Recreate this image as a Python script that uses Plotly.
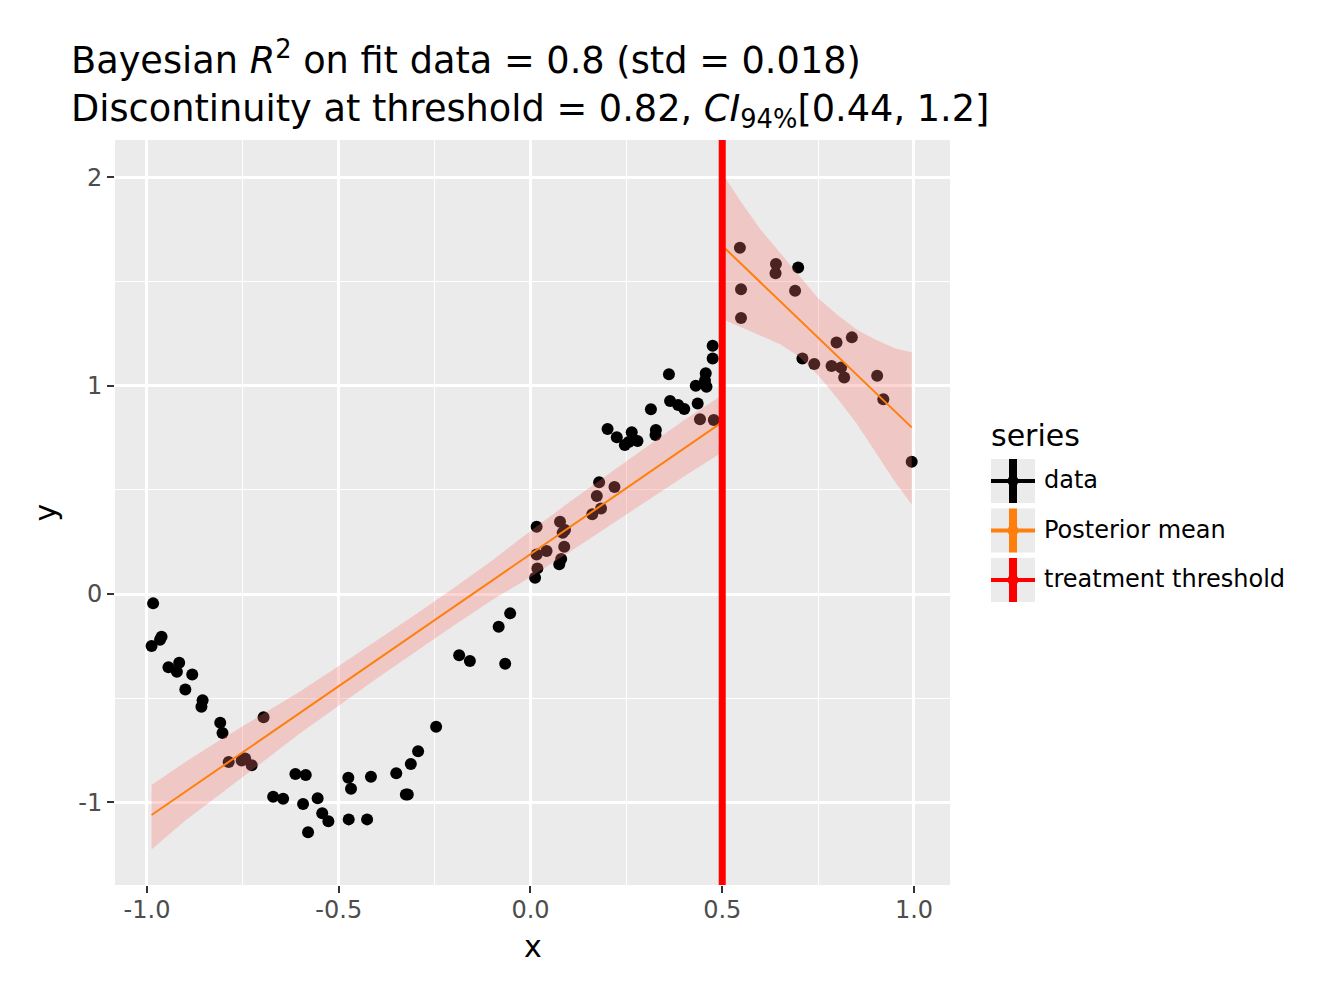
import plotly.graph_objects as go

# ---------------- data ----------------
TITLE_LINE1 = "Bayesian <i>R</i><sup>2</sup> on fit data = 0.8 (std = 0.018)"
TITLE_LINE2 = "Discontinuity at threshold = 0.82, <i>CI</i><sub>94%</sub>[0.44, 1.2]"

data_x = [-0.984, -0.962, -0.966, -0.988, -0.944, -0.916, -0.922, -0.882, -0.900, -0.855,
          -0.858, -0.809, -0.803, -0.696, -0.787, -0.753, -0.744, -0.727, -0.613, -0.586,
          -0.671, -0.645, -0.593, -0.555, -0.543, -0.527, -0.580, -0.475, -0.468, -0.474,
          -0.426, -0.416, -0.350, -0.325, -0.320, -0.312, -0.293, -0.246, -0.186, -0.158,
          -0.083, -0.053, -0.066, 0.012, 0.018, 0.016, 0.016, 0.042, 0.077, 0.090,
          0.084, 0.088, 0.080, 0.075, 0.179, 0.173, 0.219, 0.184, 0.161, 0.201,
          0.225, 0.246, 0.264, 0.279, 0.256, 0.314, 0.327, 0.326, 0.364, 0.385,
          0.401, 0.436, 0.431, 0.459, 0.442, 0.478, 0.475, 0.475, 0.361, 0.457,
          0.455, 0.546, 0.640, 0.639, 0.698, 0.549, 0.690, 0.549, 0.798, 0.838,
          0.709, 0.740, 0.785, 0.810, 0.818, 0.904, 0.920, 0.994]
data_y = [-0.045, -0.205, -0.220, -0.250, -0.352, -0.330, -0.373, -0.386, -0.458, -0.510,
          -0.541, -0.618, -0.667, -0.592, -0.807, -0.799, -0.790, -0.822, -0.864, -0.869,
          -0.973, -0.983, -1.008, -0.981, -1.053, -1.091, -1.144, -0.882, -0.935, -1.082,
          -1.082, -0.877, -0.861, -0.962, -0.962, -0.816, -0.755, -0.637, -0.294, -0.322,
          -0.157, -0.093, -0.335, 0.078, 0.123, 0.323, 0.190, 0.206, 0.347, 0.307,
          0.294, 0.227, 0.168, 0.143, 0.536, 0.470, 0.514, 0.410, 0.383, 0.792,
          0.752, 0.715, 0.776, 0.735, 0.730, 0.887, 0.787, 0.763, 0.927, 0.907,
          0.888, 0.915, 1.000, 0.995, 0.839, 0.835, 1.192, 1.131, 1.055, 1.060,
          1.025, 1.662, 1.584, 1.540, 1.567, 1.463, 1.456, 1.325, 1.207, 1.232,
          1.131, 1.104, 1.095, 1.087, 1.039, 1.048, 0.935, 0.635]

THRESHOLD = 0.5

mean_pre_x = [-0.988, 0.5]
mean_pre_y = [-1.061, 0.825]
mean_post_x = [0.5, 0.994]
mean_post_y = [1.672, 0.800]

band_pre_x = [-0.988, -0.9, -0.8, -0.7, -0.6, -0.5, -0.4, -0.3, -0.2, -0.1,
              0.0, 0.1, 0.2, 0.3, 0.4, 0.5]
band_pre_upper = [-0.917, -0.807, -0.690, -0.579, -0.467, -0.346, -0.224, -0.098, 0.029, 0.161,
                  0.302, 0.439, 0.571, 0.702, 0.834, 0.955]
band_pre_lower = [-1.226, -1.087, -0.950, -0.809, -0.667, -0.536, -0.404, -0.278, -0.151, -0.029,
                  0.082, 0.199, 0.321, 0.442, 0.564, 0.680]

band_post_x = [0.5, 0.55, 0.6, 0.65, 0.7, 0.75, 0.8, 0.85, 0.9, 0.95, 0.994]
band_post_upper = [2.02, 1.88, 1.75, 1.64, 1.53, 1.42, 1.34, 1.27, 1.22, 1.18, 1.16]
band_post_lower = [1.32, 1.28, 1.24, 1.20, 1.14, 1.05, 0.94, 0.82, 0.68, 0.54, 0.43]

x_ticks = [-1.0, -0.5, 0.0, 0.5, 1.0]
x_tick_labels = ["-1.0", "-0.5", "0.0", "0.5", "1.0"]
x_minor = [-0.75, -0.25, 0.25, 0.75]
y_ticks = [-1, 0, 1, 2]
y_tick_labels = ["-1", "0", "1", "2"]
y_minor = [-0.5, 0.5, 1.5]

legend_title = "series"
legend_labels = ["data", "Posterior mean", "treatment threshold"]
legend_colors = ["black", "#ff7f0e", "red"]

# ---------------- styles / layout ----------------
FONT = "DejaVu Sans"
W, H = 1320, 999
L, R, T, B = 115, 950, 140, 885
BAND_COLOR = "rgba(248,118,109,0.3)"


def pxx(x):
    return (x - L) / (R - L)


def pxy(y):
    return (B - y) / (B - T)


fig = go.Figure()

fig.add_trace(go.Scatter(x=data_x, y=data_y, mode="markers",
                         marker=dict(color="black", size=12, line=dict(width=0)),
                         showlegend=False, name="data"))

for bx, lo, up in [(band_pre_x, band_pre_lower, band_pre_upper),
                   (band_post_x, band_post_lower, band_post_upper)]:
    fig.add_trace(go.Scatter(x=list(bx) + list(bx)[::-1], y=list(up) + list(lo)[::-1],
                             mode="lines", fill="toself", fillcolor=BAND_COLOR,
                             line=dict(width=0), hoverinfo="skip", showlegend=False))

for mx, my in [(mean_pre_x, mean_pre_y), (mean_post_x, mean_post_y)]:
    fig.add_trace(go.Scatter(x=mx, y=my, mode="lines",
                             line=dict(color="#ff7f0e", width=2),
                             showlegend=False, name="Posterior mean"))

fig.add_shape(type="line", xref="x", yref="paper", x0=THRESHOLD, x1=THRESHOLD, y0=0, y1=1,
              line=dict(color="red", width=7), layer="above")

# manual legend
ann = []
shapes = []
ann.append(dict(text=legend_title, xref="paper", yref="paper", x=pxx(989), y=pxy(436),
                xanchor="left", yanchor="middle", showarrow=False,
                font=dict(family=FONT, size=30, color="black")))
key_tops = [459, 508.5, 558]
for lab, col, top in zip(legend_labels, legend_colors, key_tops):
    x0, x1 = 991, 1035
    y0, y1 = top, top + 44
    cx, cy = (x0 + x1) / 2, (y0 + y1) / 2
    shapes.append(dict(type="rect", xref="paper", yref="paper",
                       x0=pxx(x0), x1=pxx(x1), y0=pxy(y1), y1=pxy(y0),
                       fillcolor="#ebebeb", line=dict(width=0), layer="above"))
    shapes.append(dict(type="line", xref="paper", yref="paper",
                       x0=pxx(cx), x1=pxx(cx), y0=pxy(y1), y1=pxy(y0),
                       line=dict(color=col, width=8), layer="above"))
    shapes.append(dict(type="line", xref="paper", yref="paper",
                       x0=pxx(x0), x1=pxx(x1), y0=pxy(cy), y1=pxy(cy),
                       line=dict(color=col, width=4), layer="above"))
    shapes.append(dict(type="circle", xref="paper", yref="paper",
                       x0=pxx(cx - 5.5), x1=pxx(cx + 5.5), y0=pxy(cy + 5.5), y1=pxy(cy - 5.5),
                       fillcolor=col, line=dict(width=0), layer="above"))
    ann.append(dict(text=lab, xref="paper", yref="paper", x=pxx(1042), y=pxy(cy - 1),
                    xanchor="left", yanchor="middle", showarrow=False,
                    font=dict(family=FONT, size=24, color="black")))

# axis titles
ann.append(dict(text="x", xref="paper", yref="paper", x=0.5, y=pxy(946),
                xanchor="center", yanchor="middle", showarrow=False,
                font=dict(family=FONT, size=30, color="black")))
ann.append(dict(text="y", xref="paper", yref="paper", x=pxx(45), y=0.5, textangle=-90,
                xanchor="center", yanchor="middle", showarrow=False,
                font=dict(family=FONT, size=30, color="black")))

for s in shapes:
    fig.add_shape(**s)

axis_common = dict(showline=False, zeroline=False, showgrid=True, gridcolor="white",
                   gridwidth=2.6, ticks="outside", ticklen=7, tickwidth=2,
                   tickcolor="#333333",
                   tickfont=dict(family=FONT, size=24, color="#4d4d4d"))

fig.update_layout(
    width=W, height=H,
    margin=dict(l=L, r=W - R, t=T, b=H - B, autoexpand=False),
    paper_bgcolor="white", plot_bgcolor="#ebebeb",
    showlegend=False,
    title=dict(text=TITLE_LINE1 + "<br>" + TITLE_LINE2, xref="container", yref="container",
               x=71 / W, xanchor="left", y=1 - 73 / H, yanchor="top",
               font=dict(family=FONT, size=36.7, color="black")),
    xaxis=dict(range=[-1.0834, 1.0939], tickvals=x_ticks, ticktext=x_tick_labels,
               ticklabelstandoff=-4,
               minor=dict(tickvals=x_minor, showgrid=True, gridcolor="white", gridwidth=1.3,
                          ticks=""),
               **axis_common),
    yaxis=dict(range=[-1.397, 2.1795], tickvals=y_ticks, ticktext=y_tick_labels,
               minor=dict(tickvals=y_minor, showgrid=True, gridcolor="white", gridwidth=1.3,
                          ticks=""),
               **axis_common),
    annotations=ann,
)

fig.write_html("out.html")
